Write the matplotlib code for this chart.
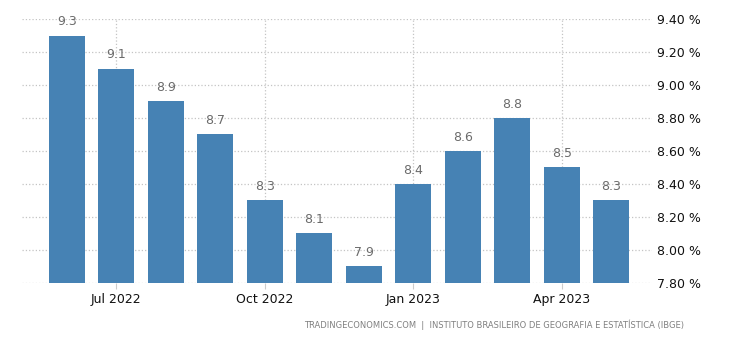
import numpy as np
from matplotlib import pyplot as plt

# monthly rate, Jun 2022 .. May 2023
months = ['Jun 2022', 'Jul 2022', 'Aug 2022', 'Sep 2022', 'Oct 2022', 'Nov 2022',
          'Dec 2022', 'Jan 2023', 'Feb 2023', 'Mar 2023', 'Apr 2023', 'May 2023']
values = [9.3, 9.1, 8.9, 8.7, 8.3, 8.1, 7.9, 8.4, 8.6, 8.8, 8.5, 8.3]
tick_months = ['Jul 2022', 'Oct 2022', 'Jan 2023', 'Apr 2023']
y_ticks = [7.8, 8.0, 8.2, 8.4, 8.6, 8.8, 9.0, 9.2, 9.4]

fig = plt.figure(figsize=(7.3, 3.4), dpi=100)
ax = fig.add_axes([0.030, 0.168, 0.863, 0.776])

x = np.arange(len(months))
ax.bar(x, values, width=0.73, color='#4682b4', zorder=2)

for xi, v in zip(x, values):
    ax.text(xi, v + 0.045, '%.1f' % v, ha='center', va='bottom',
            fontsize=9, color='#6b6b6b')

ax.set_ylim(7.8, 9.4)
ax.set_xlim(-0.91, 11.82)
ax.set_yticks(y_ticks)
ax.set_yticklabels(['%.2f %%' % t for t in y_ticks])
ax.yaxis.tick_right()
ax.set_xticks([months.index(m) for m in tick_months])
ax.set_xticklabels(tick_months)

ax.tick_params(axis='y', length=0, pad=4, labelsize=9, labelcolor='#111111')
ax.tick_params(axis='x', length=4, color='#cccccc', pad=3, labelsize=9, labelcolor='#111111')

ax.grid(True, linestyle=':', color='#c4c4c4', linewidth=0.9, zorder=0)
for s in ax.spines.values():
    s.set_visible(False)

fig.text(0.937, 0.045, 'TRADINGECONOMICS.COM  |  INSTITUTO BRASILEIRO DE GEOGRAFIA E ESTATÍSTICA (IBGE)',
         ha='right', va='center', fontsize=6.0, color='#808080')

fig.savefig('out.png', dpi=100)
